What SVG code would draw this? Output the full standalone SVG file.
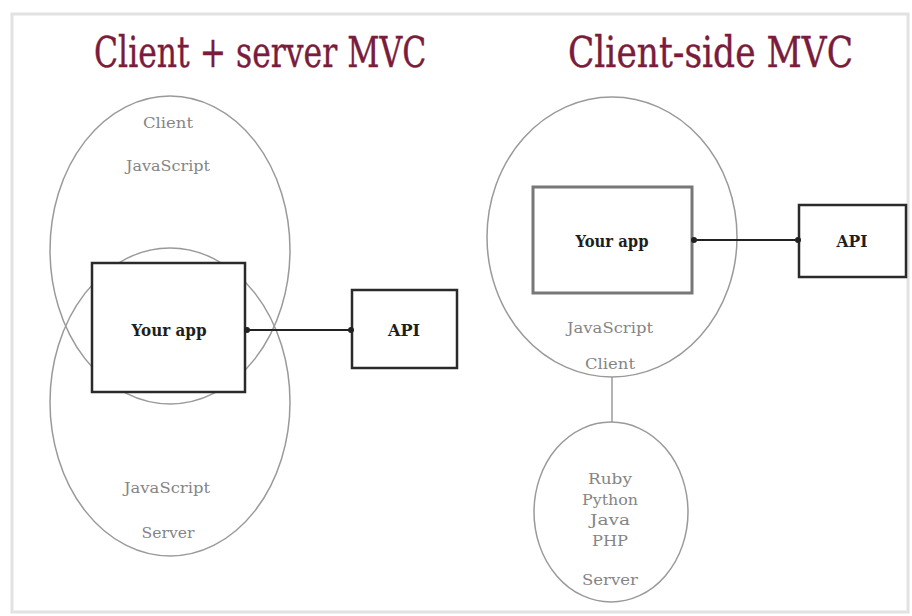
<svg xmlns="http://www.w3.org/2000/svg" width="912" height="616" viewBox="0 0 912 616">
  <style>
    .title { font-family: "DejaVu Serif", "Liberation Serif", serif; font-size: 43px; fill: #7a1c3c; stroke: #7a1c3c; stroke-width: 0.4; }
    .lbl { font-family: "DejaVu Serif", "Liberation Serif", serif; font-size: 15px; fill: #858585; text-anchor: middle; }
    .app { font-family: "DejaVu Serif", "Liberation Serif", serif; font-size: 16px; font-weight: bold; fill: #1e1e1e; text-anchor: middle; }
    .ring { fill: none; stroke: #9a9a9a; stroke-width: 1.5; }
    .box { fill: #fff; stroke: #2a2a2a; stroke-width: 2.5; }
    .box-soft { fill: #fff; stroke: #777; stroke-width: 3; }
    .link { stroke: #222; stroke-width: 2; fill: none; marker-start: url(#dot); marker-end: url(#dot); }
    .tie { stroke: #9a9a9a; stroke-width: 1.5; fill: none; }
  </style>
  <defs>
    <marker id="dot" viewBox="0 0 6 6" refX="3" refY="3" markerWidth="3" markerHeight="3" orient="auto">
      <circle cx="3" cy="3" r="3" fill="#222"/>
    </marker>
  </defs>

  <rect width="912" height="616" fill="#fff"/>
  <rect x="12" y="14" width="896" height="598" fill="none" stroke="#e2e2e2" stroke-width="3"/>

  <!-- headings, narrowed horizontally -->
  <text class="title" transform="translate(94,67) scale(0.75,1)" x="0" y="0" textLength="443" lengthAdjust="spacingAndGlyphs">Client + server MVC</text>
  <text class="title" transform="translate(568,67) scale(0.75,1)" x="0" y="0" textLength="380" lengthAdjust="spacingAndGlyphs">Client-side MVC</text>

  <!-- left: client and server overlapping -->
  <g id="client-left">
    <ellipse class="ring" cx="170" cy="250" rx="120" ry="154"/>
    <text class="lbl" x="168" y="128" textLength="50" lengthAdjust="spacingAndGlyphs">Client</text>
    <text class="lbl" x="168" y="171" textLength="84" lengthAdjust="spacingAndGlyphs">JavaScript</text>
  </g>
  <g id="server-left">
    <ellipse class="ring" cx="170" cy="402" rx="120" ry="154"/>
    <text class="lbl" x="167" y="493" textLength="86" lengthAdjust="spacingAndGlyphs">JavaScript</text>
    <text class="lbl" x="168" y="538" textLength="53" lengthAdjust="spacingAndGlyphs">Server</text>
  </g>
  <g id="app-left">
    <rect class="box" x="92" y="263" width="153" height="129"/>
    <text class="app" x="169" y="336" textLength="75" lengthAdjust="spacingAndGlyphs">Your app</text>
  </g>
  <g id="api-left">
    <rect class="box" x="352" y="290" width="105" height="78"/>
    <text class="app" x="404" y="336" textLength="32" lengthAdjust="spacingAndGlyphs">API</text>
  </g>

  <!-- right: client-side -->
  <g id="client-right">
    <ellipse class="ring" cx="612" cy="237" rx="125" ry="140"/>
    <text class="lbl" x="610" y="333" textLength="86" lengthAdjust="spacingAndGlyphs">JavaScript</text>
    <text class="lbl" x="610" y="369" textLength="50" lengthAdjust="spacingAndGlyphs">Client</text>
  </g>
  <g id="app-right">
    <rect class="box-soft" x="533" y="187" width="159" height="106"/>
    <text class="app" x="612" y="247" textLength="73" lengthAdjust="spacingAndGlyphs">Your app</text>
  </g>
  <g id="api-right">
    <rect class="box" x="799" y="205" width="107" height="72"/>
    <text class="app" x="852" y="247" textLength="31" lengthAdjust="spacingAndGlyphs">API</text>
  </g>
  <g id="server-right">
    <ellipse class="ring" cx="611" cy="512" rx="77" ry="90"/>
    <text class="lbl" x="610" y="484" textLength="44" lengthAdjust="spacingAndGlyphs">Ruby</text>
    <text class="lbl" x="610" y="505" textLength="56" lengthAdjust="spacingAndGlyphs">Python</text>
    <text class="lbl" x="610" y="525" textLength="40" lengthAdjust="spacingAndGlyphs">Java</text>
    <text class="lbl" x="610" y="546" textLength="36" lengthAdjust="spacingAndGlyphs">PHP</text>
    <text class="lbl" x="610" y="585" textLength="56" lengthAdjust="spacingAndGlyphs">Server</text>
  </g>

  <!-- connectors -->
  <g id="connectors">
    <line class="link" x1="247" y1="330" x2="351" y2="330"/>
    <line class="link" x1="694" y1="240" x2="798" y2="240"/>
    <line class="tie" x1="612" y1="377" x2="612" y2="422"/>
  </g>
</svg>
